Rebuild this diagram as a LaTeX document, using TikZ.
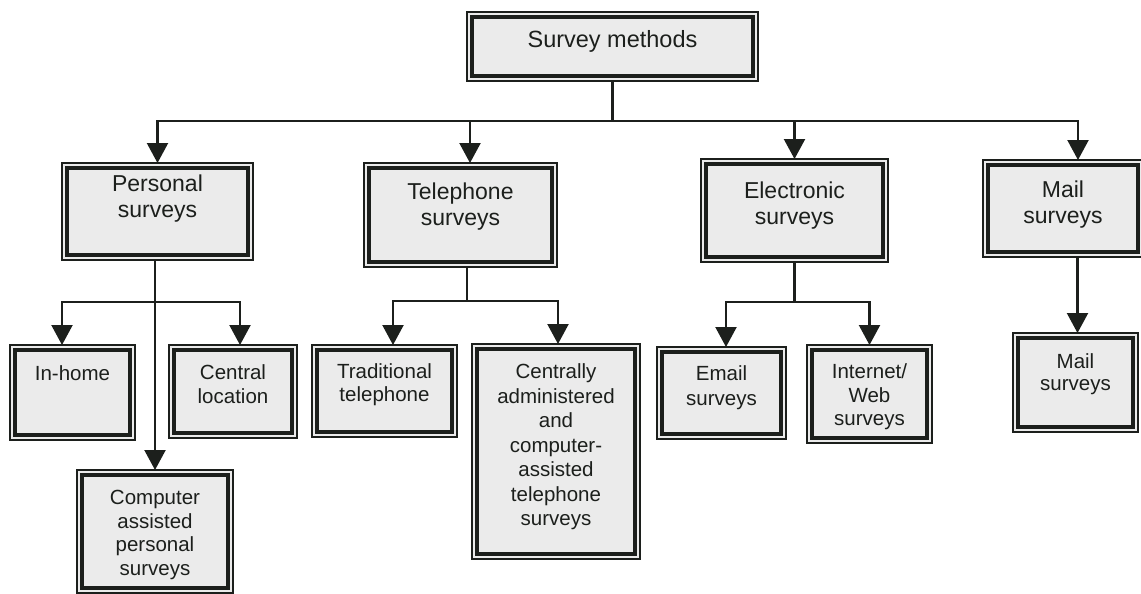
\documentclass[tikz,border=0pt]{standalone}
\usepackage{fontspec}
\setmainfont{Liberation Sans}
\usetikzlibrary{arrows.meta,backgrounds}
\definecolor{boxfill}{HTML}{EBEBEB}
\definecolor{ink}{HTML}{1C1F1C}
\tikzset{
  box/.style={draw=ink, line width=3.8pt, fill=boxfill, inner sep=0pt, outer sep=5pt, rectangle},
  frame/.style={draw=ink, line width=1.5pt, fill=boxfill},
  lblA/.style={font=\fontsize{23.5}{26}\selectfont, align=center, text=ink, inner sep=0pt},
  lblB/.style={font=\fontsize{23}{26}\selectfont, align=center, text=ink, inner sep=0pt},
  lblC/.style={font=\fontsize{20.5}{23.5}\selectfont, align=center, text=ink, inner sep=0pt},
  lblD/.style={font=\fontsize{20.5}{24.5}\selectfont, align=center, text=ink, inner sep=0pt},
  lblE/.style={font=\fontsize{20.5}{22}\selectfont, align=center, text=ink, inner sep=0pt},
  conn/.style={draw=ink, line width=2.2pt},
  arr/.style={conn, -{Triangle[width=21pt,length=20pt]}},
}
\newcommand\mkbox[8]{%
  \pgfmathsetmacro\bw{#4-#2-10}%
  \pgfmathsetmacro\bh{#5-#3-10}%
  \pgfmathsetmacro\bcx{(#2+#4)/2}%
  \pgfmathsetmacro\bcy{(#3+#5)/2}%
  \pgfmathsetmacro\bsh{\bcy-#6}%
  \node[box, minimum width=\bw pt, minimum height=\bh pt,
        label={[#7, yshift=\bsh pt]center:{#8}}] (#1) at (\bcx,\bcy) {};
  \begin{scope}[on background layer]
    \draw[frame] (#1.north west) rectangle (#1.south east);
  \end{scope}%
}
\begin{document}
\begin{tikzpicture}[x=1pt, y=-1pt]
\useasboundingbox (0,0) rectangle (1141,594);
\begin{scope}[on background layer]
  \fill[white] (0,0) rectangle (1141,594);
\end{scope}

\mkbox{sm}{467}{12}{758}{81}{41.5}{lblA}{Survey methods}
\mkbox{ps}{62}{163}{253}{260}{199}{lblB}{Personal\\surveys}
\mkbox{tel}{364}{163}{557}{267}{207}{lblB}{Telephone\\surveys}
\mkbox{ele}{701}{159}{888}{262}{205.5}{lblB}{Electronic\\surveys}
\mkbox{mail}{983}{160}{1143}{257}{205}{lblB}{Mail\\surveys}

\mkbox{inh}{10}{345}{135}{440}{373}{lblC}{In-home}
\mkbox{cen}{169}{345}{297}{438}{384}{lblC}{Central\\location}
\mkbox{cap}{77}{470}{233}{593}{535}{lblC}{Computer\\assisted\\personal\\surveys}
\mkbox{trad}{312}{345}{457}{437}{384.5}{lblC}{Traditional\\telephone}
\mkbox{cat}{472}{344}{640}{559}{447}{lblD}{Centrally\\administered\\and\\computer-\\assisted\\telephone\\surveys}
\mkbox{em}{657}{347}{786}{439}{387.5}{lblD}{Email\\surveys}
\mkbox{web}{807}{345}{932}{443}{397}{lblC}{Internet/\\Web\\surveys}
\mkbox{mailb}{1013}{333}{1138}{432}{374}{lblE}{Mail\\surveys}

% level 1 connectors
\coordinate (j0) at (sm.south |- 0,121);
\draw[conn] (sm.south) -- (j0);
\draw[arr] (j0) -| (ps.north);
\draw[arr] (j0) -| ([xshift=9.5pt]tel.north);
\draw[arr] (j0) -| (ele.north);
\draw[arr] (j0) -| ([xshift=15pt]mail.north);

% personal
\coordinate (p0) at (cap.north |- ps.south);
\coordinate (j1) at (cap.north |- 0,302);
\draw[arr] (p0) -- (cap.north);
\draw[arr] (j1) -| ([xshift=-10.5pt]inh.north);
\draw[arr] (j1) -| ([xshift=7pt]cen.north);

% telephone
\coordinate (j2) at ([xshift=6.5pt]tel.south |- 0,301);
\draw[conn] ([xshift=6.5pt]tel.south) -- (j2);
\draw[arr] (j2) -| ([xshift=8.5pt]trad.north);
\draw[arr] (j2) -| ([xshift=2pt]cat.north);

% electronic
\coordinate (j3) at (ele.south |- 0,302);
\draw[conn] (ele.south) -- (j3);
\draw[arr] (j3) -| ([xshift=4.5pt]em.north);
\draw[arr] (j3) -| (web.north);

% mail
\draw[arr] ([xshift=14.5pt]mail.south) -- ([xshift=2pt]mailb.north);
\end{tikzpicture}
\end{document}
